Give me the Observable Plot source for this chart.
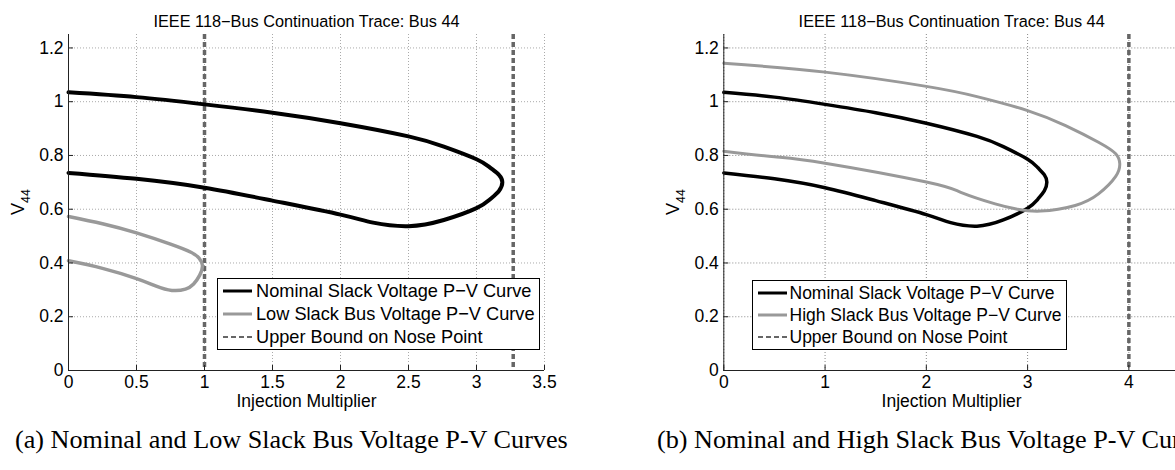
<!DOCTYPE html>
<html><head><meta charset="utf-8">
<script src="https://cdn.jsdelivr.net/npm/d3@7"></script>
<script src="https://cdn.jsdelivr.net/npm/@observablehq/plot@0.6"></script>
<style>
body{margin:0;background:#fff;overflow:hidden;}
#wrap{position:relative;width:1175px;height:470px;overflow:hidden;font-family:"Liberation Sans",Arial,sans-serif;color:#000;}
.panel{position:absolute;top:0;}
.legend{position:absolute;border:1.5px solid #000;background:#fff;box-sizing:border-box;}
.legend .row{position:absolute;left:0;height:22px;line-height:22px;white-space:nowrap;}
.legend svg{position:absolute;left:0;top:0;}
.legend span{position:absolute;top:0;}
.caption{position:absolute;font-family:"Liberation Serif","Times New Roman",serif;font-size:26.2px;white-space:nowrap;line-height:1;}
</style></head>
<body><div id="wrap"></div>
<script>
// ---------- data ----------
const title = "IEEE 118\u2212Bus Continuation Trace: Bus 44";
const xLabel = "Injection Multiplier";
const yTicks = [0, 0.2, 0.4, 0.6, 0.8, 1, 1.2];
const xTicksA = [0, 0.5, 1, 1.5, 2, 2.5, 3, 3.5];
const xTicksB = [0, 1, 2, 3, 4];

// nominal slack voltage P-V curve (upper branch -> nose -> lower branch)
const nominalX = [0, 0.5, 1, 1.5, 2, 2.5, 2.76, 3, 3.1, 3.165, 3.19, 3.165, 3.1, 3, 2.76, 2.5, 2.24, 2, 1.5, 1, 0.5, 0];
const nominalV = [1.035, 1.017, 0.990, 0.959, 0.920, 0.871, 0.833, 0.786, 0.755, 0.728, 0.700, 0.668, 0.637, 0.604, 0.560, 0.537, 0.550, 0.580, 0.632, 0.680, 0.713, 0.735];

// low slack bus voltage P-V curve
const lowX = [0, 0.25, 0.5, 0.75, 0.9, 0.96, 0.985, 0.965, 0.92, 0.86, 0.76, 0.64, 0.5, 0.25, 0];
const lowV = [0.573, 0.546, 0.512, 0.470, 0.440, 0.418, 0.390, 0.355, 0.322, 0.303, 0.298, 0.315, 0.342, 0.380, 0.408];

// high slack bus voltage P-V curve
const highX = [0, 1, 2, 2.5, 3, 3.375, 3.7, 3.87, 3.91, 3.87, 3.7, 3.47, 3.13, 2.9, 2.68, 2.34, 2, 1, 0.5, 0];
const highV = [1.143, 1.110, 1.057, 1.019, 0.967, 0.911, 0.849, 0.806, 0.769, 0.722, 0.657, 0.614, 0.593, 0.600, 0.620, 0.663, 0.701, 0.771, 0.795, 0.816];

// upper bounds on nose point
const boundsA = [1, 3.27];
const boundsB = [4];

const legendA = ["Nominal Slack Voltage P\u2212V Curve", "Low Slack Bus Voltage P\u2212V Curve", "Upper Bound on Nose Point"];
const legendB = ["Nominal Slack Voltage P\u2212V Curve", "High Slack Bus Voltage P\u2212V Curve", "Upper Bound on Nose Point"];
const captionA = "(a) Nominal and Low Slack Bus Voltage P-V Curves";
const captionB = "(b) Nominal and High Slack Bus Voltage P-V Curves";

const BLACK = "#000", GRAY = "#999", DASH = "#666";

const toRows = (xs, ys) => xs.map((x, i) => ({x, v: ys[i]}));

function panel({left, width, marginLeft, marginRight, xDomain, xTicks, bounds, second, secondColor, lw, gridColor}) {
  const fmt = d3.format("~g");
  const p = Plot.plot({
    width, height: 420,
    marginTop: 34, marginBottom: 50, marginLeft, marginRight,
    x: {domain: xDomain},
    y: {domain: [0, 1.25]},
    style: {fontFamily: "'Liberation Sans', Arial, sans-serif", fontSize: "17.5px", color: "#000", background: "transparent", overflow: "visible"},
    marks: [
      Plot.gridX({ticks: xTicks, stroke: gridColor, strokeOpacity: 1, strokeDasharray: "1,2"}),
      Plot.gridY({ticks: yTicks, stroke: gridColor, strokeOpacity: 1, strokeDasharray: "1,2"}),
      Plot.ruleX(bounds, {stroke: DASH, strokeWidth: 3.5, strokeDasharray: "5,3"}),
      Plot.line(toRows(nominalX, nominalV), {x: "x", y: "v", stroke: BLACK, strokeWidth: lw, curve: "natural"}),
      Plot.line(second, {x: "x", y: "v", stroke: secondColor, strokeWidth: lw - 0.5, curve: "natural"}),
      Plot.ruleY([0], {stroke: "#222", strokeWidth: 1}),
      Plot.ruleX([0], {stroke: "#222", strokeWidth: 1}),
      Plot.axisX({ticks: xTicks, tickFormat: fmt, tickSize: -5, tickPadding: 10.5, label: null, stroke: "#222"}),
      Plot.axisY({ticks: yTicks, tickFormat: fmt, tickSize: -5, tickPadding: 10, label: null, stroke: "#222"}),
      Plot.text([title], {frameAnchor: "top", dy: -19, fontSize: 16.3}),
      Plot.text([xLabel], {frameAnchor: "bottom", dy: 36, fontSize: 17.5})
    ]
  });
  p.classList.add("panel");
  p.style.left = left + "px";
  // y label with subscript
  const svg = d3.select(p);
  const t = svg.append("text")
    .attr("transform", `translate(${marginLeft - 44},202) rotate(-90)`)
    .attr("text-anchor", "middle")
    .attr("font-size", 18)
    .attr("fill", "#000")
    .text("V");
  t.append("tspan").attr("font-size", 12.5).attr("dy", 6).text("44");
  return p;
}

const wrap = document.getElementById("wrap");
wrap.appendChild(panel({left: 0, width: 590, marginLeft: 68, marginRight: 46, xDomain: [0, 3.5], xTicks: xTicksA, bounds: boundsA, second: toRows(lowX, lowV), secondColor: GRAY, lw: 4, gridColor: "#aaa"}));
wrap.appendChild(panel({left: 590, width: 600, marginLeft: 133.3, marginRight: 11, xDomain: [0, 4.5], xTicks: xTicksB, bounds: boundsB, second: toRows(highX, highV), secondColor: GRAY, lw: 3.5, gridColor: "#888"}));

function legend(items, colors, {left, top, width, height, rows, textLeft, fontSize}) {
  const box = document.createElement("div");
  box.className = "legend";
  Object.assign(box.style, {left: left + "px", top: top + "px", width: width + "px", height: height + "px", fontSize: fontSize + "px"});
  items.forEach((label, i) => {
    const row = document.createElement("div");
    row.className = "row";
    row.style.top = (rows[i] - 11) + "px";
    row.style.width = (width - 4) + "px";
    const dashed = i === 2;
    row.innerHTML = `<svg width="40" height="22"><line x1="5" x2="34" y1="11" y2="11" stroke="${colors[i]}" stroke-width="${dashed ? 2 : 3}" ${dashed ? 'stroke-dasharray="5,3"' : ''}/></svg><span style="left:${textLeft}px">${label}</span>`;
    box.appendChild(row);
  });
  wrap.appendChild(box);
}
legend(legendA, [BLACK, GRAY, DASH], {left: 216.5, top: 278, width: 323, height: 72, rows: [11.5, 35, 57.5], textLeft: 38.5, fontSize: 18.2});
legend(legendB, [BLACK, GRAY, DASH], {left: 751.5, top: 280, width: 315, height: 69.5, rows: [12, 34, 55.5], textLeft: 37, fontSize: 17.5});

function caption(text, left) {
  const c = document.createElement("div");
  c.className = "caption";
  c.style.left = left + "px";
  c.style.top = "427px";
  c.textContent = text;
  wrap.appendChild(c);
}
caption(captionA, 15);
caption(captionB, 657);
</script>
</body></html>
